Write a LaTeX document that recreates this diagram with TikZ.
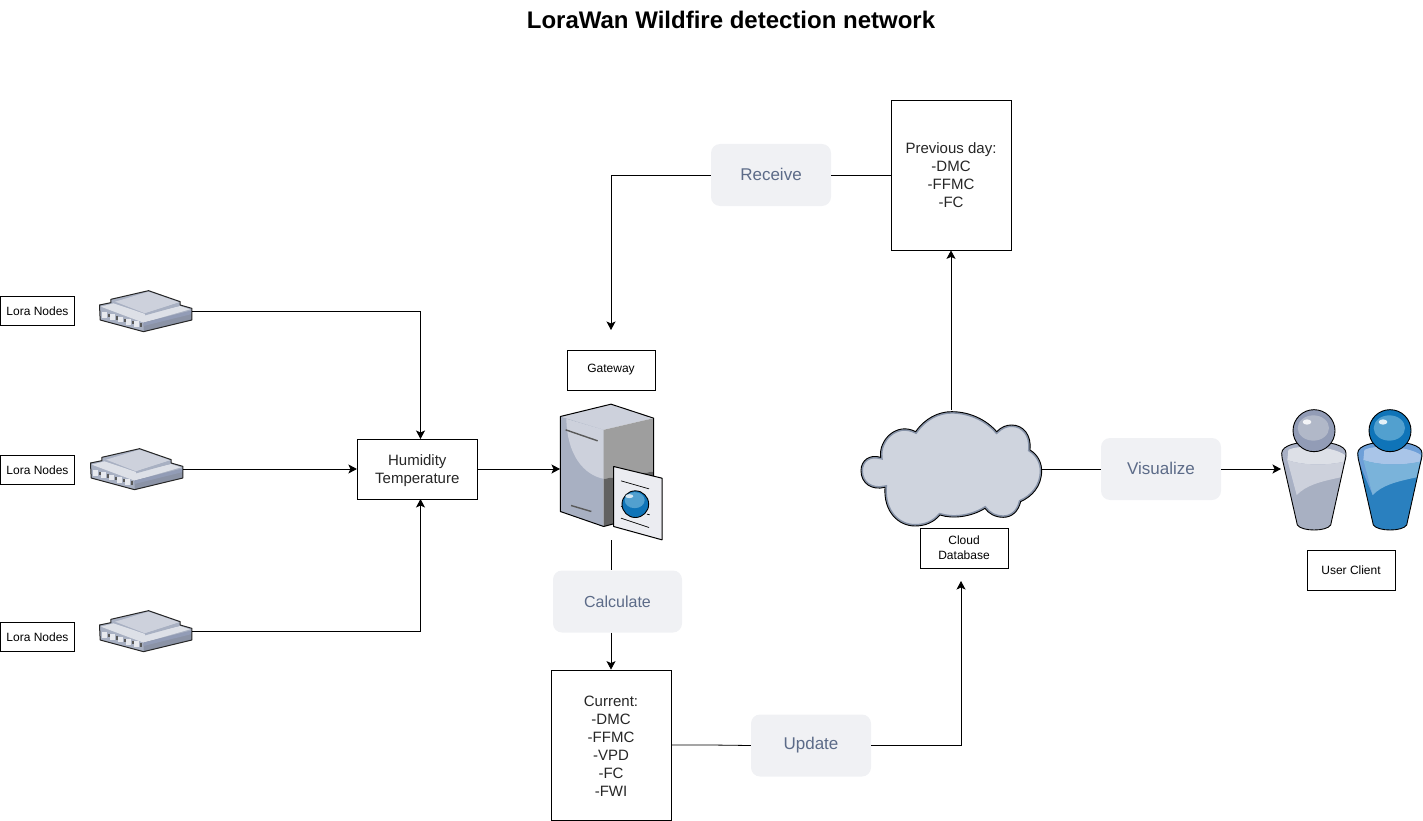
\documentclass[tikz,border=0pt]{standalone}
\usepackage{fontspec}
\setmainfont{Liberation Sans}
\usetikzlibrary{arrows.meta,positioning}
\definecolor{stepfill}{HTML}{F0F1F4}
\definecolor{steptext}{HTML}{5C6B88}
\definecolor{cloudfill}{HTML}{CFD4DE}
\definecolor{cloudedge}{HTML}{8793A8}
\definecolor{slatea}{HTML}{A8B0C2}
\definecolor{slateb}{HTML}{CDD1DC}
\definecolor{slatec}{HTML}{929CB6}
\definecolor{slated}{HTML}{DDE0E7}
\definecolor{slatee}{HTML}{8B93A6}
\definecolor{azurea}{HTML}{2A80BF}
\definecolor{azureb}{HTML}{6D9FD8}
\definecolor{azurec}{HTML}{A9C5E8}
\definecolor{azured}{HTML}{7AB3DA}
\definecolor{azuree}{HTML}{0F74B8}
\definecolor{azuref}{HTML}{52A0CF}

\newcommand{\cloudoutline}{(305,35) .. controls (360,35) and (410,60) .. (440,95)
  .. controls (455,80) and (470,75) .. (485,75)
  .. controls (520,75) and (545,105) .. (540,150)
  .. controls (565,165) and (575,190) .. (575,212)
  .. controls (575,260) and (545,290) .. (512,305)
  .. controls (505,335) and (485,352) .. (460,352)
  .. controls (435,352) and (415,340) .. (405,325)
  .. controls (365,350) and (310,358) .. (270,345)
  .. controls (250,368) and (225,378) .. (195,378)
  .. controls (145,378) and (100,335) .. (105,262)
  .. controls (65,272) and (33,250) .. (33,212)
  .. controls (33,180) and (60,162) .. (92,172)
  .. controls (85,120) and (140,65) .. (197,95)
  .. controls (225,55) and (265,35) .. (305,35) -- cycle}
\newcommand{\bodyoutline}{(35,160) .. controls (35,135) and (85,125) .. (130,125)
  .. controls (180,125) and (228,135) .. (228,160)
  .. controls (228,175) and (225,180) .. (222,195) -- (182,375)
  .. controls (170,395) and (95,395) .. (82,375) -- (40,190)
  .. controls (37,178) and (35,170) .. (35,160) -- cycle}

\tikzset{
  pics/loradev/.style={code={
    \begin{scope}[scale=1/3, shift={(-196,-123)}]
      \fill[slatea] (58,105) -- (92,98) -- (92,88) -- (205,62) -- (300,95) -- (300,105) -- (335,115) -- (335,150) -- (190,185) -- (60,150) -- cycle;
      \fill[slated] (62,110) -- (100,100) -- (195,132) -- (300,108) -- (330,118) -- (190,158) -- cycle;
      \fill[slateb] (105,95) -- (205,65) -- (298,97) -- (195,130) -- cycle;
      \fill[slatea] (195,130) -- (298,97) -- (300,107) -- (195,136) -- cycle;
      \fill[slatea] (60,122) -- (190,158) -- (190,184) -- (60,148) -- cycle;
      \fill[slatee] (190,158) -- (335,122) -- (335,150) -- (190,185) -- cycle;
      \fill[slatec] (190,158) -- (335,122) -- (335,132) -- (190,168) -- cycle;
      \foreach \k in {0,1,2,3,4} {
        \fill[slated!70!white] (66+24*\k,126+7*\k) rectangle ++(14,17);
        \fill[black!65] (83+24*\k,132+7*\k) rectangle ++(5,10);
      }
      \draw[black!85, line width=1pt, line join=round] (58,105) -- (92,98) -- (92,88) -- (205,62) -- (300,95) -- (300,105) -- (335,115) -- (335,150) -- (190,185) -- (60,150) -- cycle;
    \end{scope}
  }},
  pics/serverdev/.style={code={
    \begin{scope}[scale=1/3, shift={(-212,-240)}]
      \fill[slateb] (60,75) -- (212,38) -- (340,80) -- (190,115) -- cycle;
      \fill[slatea] (60,75) -- (190,115) -- (190,405) -- (60,360) -- cycle;
      \fill[slateb] (78,82) -- (190,115) -- (190,262) .. controls (130,250) and (80,190) .. (78,82) -- cycle;
      \fill[black!38] (190,115) -- (340,80) -- (340,240) -- (190,262) -- cycle;
      \fill[black!62] (190,262) -- (340,240) -- (340,365) -- (190,405) -- cycle;
      \draw[black!65, line width=1.4pt] (76,115) -- (172,148);
      \draw[black!65, line width=1.4pt] (92,342) -- (153,360);
      \draw[black, line width=1pt, line join=round] (60,75) -- (212,38) -- (340,80) -- (340,365) -- (190,405) -- (60,360) -- cycle;
      \fill[slated!60!white, draw=black, line width=1pt, line join=round] (220,225) -- (365,260) -- (365,445) -- (220,405) -- cycle;
      \draw[black, line width=0.7pt] (242,268) -- (326,292) (242,380) -- (326,408);
      \draw[black, line width=0.7pt] (242,345) -- (250,347) (320,368) -- (328,370);
      \fill[azuree, draw=black, line width=0.9pt] (285,338) circle (40);
      \fill[azuref] (283,326) ellipse (30 and 24);
      \fill[white!75!azuref] (267,314) ellipse (12 and 6);
    \end{scope}
  }},
  pics/persondev/.style n args={6}{code={
    \begin{scope}[scale=1/3, shift={(-132,-210)}]
      \fill[#1] \bodyoutline;
      \fill[#2] (37,160) .. controls (37,135) and (85,127) .. (130,127) .. controls (180,127) and (226,135) .. (226,160) -- (222,190) -- (150,210) -- (80,285) -- (40,190) -- cycle;
      \fill[#3] (55,150) .. controls (80,135) and (180,135) .. (225,165) -- (222,185) .. controls (170,197) and (100,197) .. (52,180) -- cycle;
      \fill[#4] (52,180) .. controls (100,197) and (170,197) .. (222,185) -- (212,232) .. controls (150,245) and (110,255) .. (80,285) -- cycle;
      \draw[black, line width=0.9pt, line join=round] \bodyoutline;
      \fill[#5, draw=black, line width=0.9pt] (132,92) circle (63);
      \fill[#6] (130,84) ellipse (47 and 38);
      \fill[white!85!#6] (111,66) ellipse (13 and 8);
    \end{scope}
  }},
  framebox/.style={draw=black, line width=0.8pt, fill=white, inner sep=0pt, align=center, font=\fontsize{12}{15}\selectfont},
  databox/.style={draw=black, line width=0.8pt, fill=white, inner sep=0pt, align=center, text=black!85, font=\fontsize{15}{18}\selectfont},
  stepbox/.style={fill=stepfill, rounded corners=9pt, minimum width=120pt, minimum height=62pt, inner sep=0pt, text=steptext, font=\fontsize{17}{20}\selectfont},
  icon/.style={inner sep=0pt, outer sep=0pt},
  wire/.style={draw=black, line width=0.8pt},
  flow/.style={wire, -{Stealth[length=8.5pt, width=9pt, inset=2pt]}}
}

\begin{document}
\begin{tikzpicture}[x=1pt, y=-1pt]
  \useasboundingbox (0,0) rectangle (1423,821);
  \node[font=\bfseries\fontsize{24}{28}\selectfont] (title) at (731,20) {LoraWan Wildfire detection network};
  % ---- sensors on the left ----
  \foreach \n/\ly/\ix/\iy in {1/311/145.5/311, 2/470/136.5/469, 3/637/145.5/631} {
    \node[framebox, minimum width=74pt, minimum height=29.5pt] (lorabox\n) at (37.5,\ly) {Lora Nodes};
    \node[icon, minimum width=93pt, minimum height=42pt] (lora\n) at (\ix,\iy) {};
    \pic at (lora\n) {loradev};
  }
  \node[databox, minimum width=120pt, minimum height=60pt] (climate) at (417.3,469) {\rule{0pt}{15pt}Humidity\\Temperature};
  \coordinate (climatetop) at (420.5,439);
  \coordinate (climatebot) at (420.5,499);
  % ---- gateway ----
  \node[framebox, minimum width=88pt, minimum height=40pt] (gatebox) at (611,370) {Gateway};
  \node[icon, minimum width=102pt, minimum height=137pt] (gateway) at (611,471.5) {};
  \pic at (gateway) {serverdev};
  \coordinate (gatein) at (611,330);
  % ---- boxes and steps around the gateway ----
  \node[databox, minimum width=120pt, minimum height=150pt] (previous) at (951,175) {Previous day:\\-DMC\\-FFMC\\-FC};
  \node[databox, minimum width=120pt, minimum height=150pt] (current) at (611,745) {\rule{0pt}{13pt}Current:\\-DMC\\-FFMC\\-VPD\\-FC\\-FWI};
  \node[stepbox] (receive) at (771,175) {\raisebox{1pt}{Receive}};
  \node[stepbox, minimum width=129pt, font=\fontsize{16}{20}\selectfont] (calculate) at (617.5,601.5) {Calculate};
  \node[stepbox] (update) at (811,745.5) {\raisebox{-1pt}{Update}};
  \node[stepbox] (visualize) at (1161,469) {\raisebox{1pt}{Visualize}};
  % ---- cloud ----
  \node[icon, minimum width=182pt, minimum height=118pt] (cloud) at (951,469) {};
  \begin{scope}[scale=1/3, shift={(2550,1200)}]
    \fill[cloudfill] \cloudoutline;
    \begin{scope}
      \clip \cloudoutline;
      \draw[cloudedge, line width=4pt] \cloudoutline;
    \end{scope}
    \draw[black, line width=0.9pt] \cloudoutline;
  \end{scope}
  \node[framebox, minimum width=88pt, minimum height=40pt] (cloudbox) at (964,548) {Cloud\\Database};
  \coordinate (cloudin) at (961,581);
  % ---- users ----
  \node[icon, minimum width=142pt, minimum height=122pt] (users) at (1352,469) {};
  \pic at (1314,470) {persondev={slatea}{slatec!80!white}{slated}{slateb}{slatec}{slatea!90!white}};
  \pic at (1390,470) {persondev={azurea}{azureb}{azurec}{azured}{azuree}{azuref}};
  \node[framebox, minimum width=88pt, minimum height=40pt] (userbox) at (1351,570) {User Client};
  % ---- connectors ----
  \draw[flow] (lora1.east) -| (climatetop);
  \draw[flow] (lora2.east) -- (lora2.east -| climate.west);
  \draw[flow] (lora3.east) -| (climatebot);
  \draw[flow] (climate.east) -- (climate.east -| gateway.west);
  \draw[wire] (previous.west |- receive.east) -- (receive.east);
  \draw[flow] (receive.west) -| (gatein);
  \draw[wire] (gateway.south) -- (gateway.south |- calculate.north);
  \draw[flow] (calculate.south -| current.north) -- (current.north);
  \draw[wire] (current.east) -- (711,745) -- (update.west);
  \draw[flow] (update.east) -| (cloudin);
  \draw[flow] (cloud.north) -- (previous.south);
  \draw[wire] (cloud.east) -- (visualize.west);
  \draw[flow] (visualize.east) -- (users.west);
\end{tikzpicture}
\end{document}
